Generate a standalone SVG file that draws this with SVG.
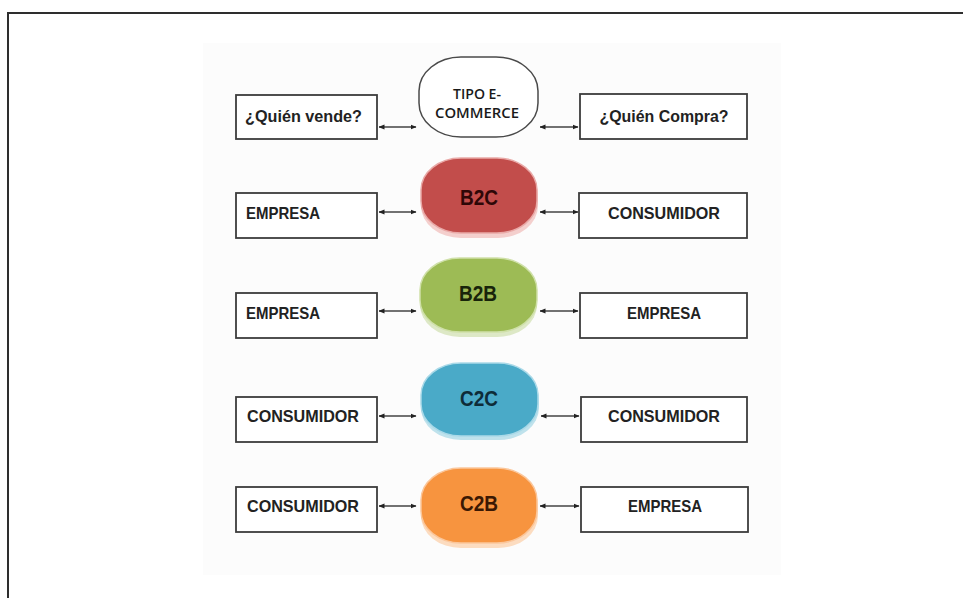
<svg xmlns="http://www.w3.org/2000/svg" width="963" height="598" viewBox="0 0 963 598">
  <defs>
    <marker id="ah" viewBox="0 0 6 6" refX="5.5" refY="3" markerWidth="6" markerHeight="6" markerUnits="userSpaceOnUse" orient="auto-start-reverse">
      <path d="M0,0.5 L6,3 L0,5.5 Z" fill="#222"/>
    </marker>
  </defs>
  <style>
    .box { fill: #ffffff; stroke: #3c3c3c; stroke-width: 1.8; }
    .lbl { font-family: "Liberation Sans", Arial, sans-serif; font-weight: bold; font-size: 16.5px; fill: #222; }
    .mid { text-anchor: middle; }
    .big { font-family: "Liberation Sans", Arial, sans-serif; font-weight: bold; font-size: 22px; text-anchor: middle; }
    .tipo { font-family: "Open Sans", "Liberation Sans", sans-serif; font-weight: 600; font-size: 14px; text-anchor: middle; fill: #1a1a1a; }
    .conn { stroke: #444; stroke-width: 1.4; fill: none; marker-start: url(#ah); marker-end: url(#ah); }
  </style>
  <rect x="0" y="0" width="963" height="598" fill="#ffffff"/>
  <rect x="203" y="43" width="578" height="532" fill="#fcfcfc"/>
  <g id="frame" fill="none" stroke="#2e2e2e" stroke-width="2">
    <polyline points="8,598 8,13 963,13"/>
  </g>

  <g id="connectors">
    <line class="conn" x1="379" y1="127" x2="416" y2="127"/>
    <line class="conn" x1="540" y1="127" x2="578" y2="127"/>
    <line class="conn" x1="379" y1="212" x2="416" y2="212"/>
    <line class="conn" x1="540" y1="212" x2="578" y2="212"/>
    <line class="conn" x1="379" y1="311" x2="416" y2="311"/>
    <line class="conn" x1="540" y1="311" x2="578" y2="311"/>
    <line class="conn" x1="379" y1="416" x2="416" y2="416"/>
    <line class="conn" x1="541" y1="416" x2="579" y2="416"/>
    <line class="conn" x1="379" y1="506" x2="416" y2="506"/>
    <line class="conn" x1="540" y1="506" x2="579" y2="506"/>
  </g>

  <g id="quien-vende">
    <rect class="box" x="236" y="95" width="141" height="44"/>
    <text class="lbl" x="245" y="122" textLength="117" lengthAdjust="spacingAndGlyphs">¿Quién vende?</text>
  </g>
  <g id="tipo-ecommerce">
    <rect x="419" y="57" width="119" height="80" rx="42" ry="34" fill="#ffffff" stroke="#4a4a4a" stroke-width="1.5"/>
    <text class="tipo" x="477" y="99" textLength="48" lengthAdjust="spacingAndGlyphs">TIPO E-</text>
    <text class="tipo" x="477" y="118" textLength="84" lengthAdjust="spacingAndGlyphs">COMMERCE</text>
  </g>
  <g id="quien-compra">
    <rect class="box" x="580" y="94" width="167" height="45"/>
    <text class="lbl mid" x="664" y="122" textLength="129" lengthAdjust="spacingAndGlyphs">¿Quién Compra?</text>
  </g>

  <g id="b2c-left">
    <rect class="box" x="236" y="193" width="141" height="45"/>
    <text class="lbl" x="246" y="219" textLength="74" lengthAdjust="spacingAndGlyphs">EMPRESA</text>
  </g>
  <g id="b2c">
    <rect x="421" y="163" width="117" height="75" rx="40" ry="32" fill="#f4cfcd"/>
    <rect x="421" y="158" width="116" height="75" rx="40" ry="32" fill="#c24d4b" stroke="#e9a9a7" stroke-width="1.5"/>
    <text class="big" x="479" y="205" fill="#2e0707" textLength="38" lengthAdjust="spacingAndGlyphs">B2C</text>
  </g>
  <g id="b2c-right">
    <rect class="box" x="579" y="193" width="168" height="45"/>
    <text class="lbl mid" x="664" y="219" textLength="112" lengthAdjust="spacingAndGlyphs">CONSUMIDOR</text>
  </g>

  <g id="b2b-left">
    <rect class="box" x="236" y="293" width="141" height="45"/>
    <text class="lbl" x="246" y="319" textLength="74" lengthAdjust="spacingAndGlyphs">EMPRESA</text>
  </g>
  <g id="b2b">
    <rect x="420" y="263" width="117" height="74" rx="40" ry="32" fill="#dde8c6"/>
    <rect x="420" y="258" width="117" height="74" rx="40" ry="32" fill="#9dbb55" stroke="#cfe0a8" stroke-width="1.5"/>
    <text class="big" x="478" y="301" fill="#18240a" textLength="38" lengthAdjust="spacingAndGlyphs">B2B</text>
  </g>
  <g id="b2b-right">
    <rect class="box" x="580" y="293" width="167" height="45"/>
    <text class="lbl mid" x="664" y="319" textLength="74" lengthAdjust="spacingAndGlyphs">EMPRESA</text>
  </g>

  <g id="c2c-left">
    <rect class="box" x="236" y="397" width="141" height="45"/>
    <text class="lbl" x="247" y="422" textLength="112" lengthAdjust="spacingAndGlyphs">CONSUMIDOR</text>
  </g>
  <g id="c2c">
    <rect x="421" y="367" width="118" height="73" rx="40" ry="32" fill="#bfe2ec"/>
    <rect x="421" y="363" width="117" height="73" rx="40" ry="32" fill="#4aaac8" stroke="#a9d9e8" stroke-width="1.5"/>
    <text class="big" x="479" y="406" fill="#0e2c38" textLength="38" lengthAdjust="spacingAndGlyphs">C2C</text>
  </g>
  <g id="c2c-right">
    <rect class="box" x="581" y="397" width="166" height="45"/>
    <text class="lbl mid" x="664" y="422" textLength="112" lengthAdjust="spacingAndGlyphs">CONSUMIDOR</text>
  </g>

  <g id="c2b-left">
    <rect class="box" x="236" y="487" width="141" height="45"/>
    <text class="lbl" x="247" y="512" textLength="112" lengthAdjust="spacingAndGlyphs">CONSUMIDOR</text>
  </g>
  <g id="c2b">
    <rect x="421" y="473" width="117" height="75" rx="40" ry="32" fill="#fcdcc0"/>
    <rect x="421" y="468" width="116" height="75" rx="40" ry="32" fill="#f7943f" stroke="#fbc69a" stroke-width="1.5"/>
    <text class="big" x="479" y="511" fill="#3b1803" textLength="38" lengthAdjust="spacingAndGlyphs">C2B</text>
  </g>
  <g id="c2b-right">
    <rect class="box" x="581" y="487" width="167" height="45"/>
    <text class="lbl mid" x="665" y="512" textLength="74" lengthAdjust="spacingAndGlyphs">EMPRESA</text>
  </g>
</svg>
